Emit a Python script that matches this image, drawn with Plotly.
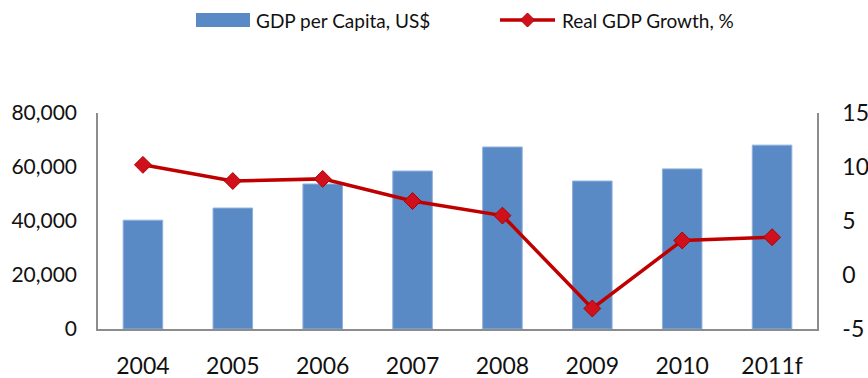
import plotly.graph_objects as go

years = ["2004", "2005", "2006", "2007", "2008", "2009", "2010", "2011f"]
gdp_per_capita = [40300, 44800, 53700, 58500, 67400, 54800, 59300, 68100]
real_growth = [10.2, 8.7, 8.9, 6.85, 5.5, -3.1, 3.2, 3.5]

left_ticks = [0, 20000, 40000, 60000, 80000]
right_ticks = [-5, 0, 5, 10, 15]
right_tick_text = ["-5", "0", "5", "10", "15"]

bar_name = "GDP per Capita, US$"
line_name = "Real GDP Growth, %"

FONT = "Lato"
AXIS_GREY = "#8c8c8c"
TICK_SIZE = 23
BAR_BLUE = "#5a8ac6"
LINE_RED = "#c00000"
MARKER_RED = "#d0101a"

W, H = 868, 378
M_L, M_R, M_T, M_B = 98, 51, 113, 49
PW, PH = W - M_L - M_R, H - M_T - M_B


def px_x(x):
    """Pixel column -> paper x."""
    return (x - M_L) / PW


def px_y(y):
    """Pixel row (from top) -> paper y."""
    return (H - M_B - y) / PH


fig = go.Figure()

fig.add_trace(go.Bar(
    x=years, y=gdp_per_capita, name=bar_name,
    marker=dict(color=BAR_BLUE, line=dict(color="#8fb0dc", width=1)),
    yaxis="y",
))

fig.add_trace(go.Scatter(
    x=years, y=real_growth, name=line_name,
    mode="lines+markers",
    line=dict(color=LINE_RED, width=3.5),
    marker=dict(symbol="diamond", size=13, color=MARKER_RED,
                line=dict(color="#b00000", width=1)),
    yaxis="y2",
))

# Legend drawn above the plot: wide swatch for the bars, line + diamond for growth
legend_font = dict(family=FONT, size=19, color="#111111")
cx, cy, r = 527.5, 20, 7
diamond_path = "M {},{} L {},{} L {},{} L {},{} Z".format(
    px_x(cx), px_y(cy - r), px_x(cx + r), px_y(cy),
    px_x(cx), px_y(cy + r), px_x(cx - r), px_y(cy))
shapes = [
    dict(type="rect", xref="paper", yref="paper",
         x0=px_x(196), x1=px_x(250), y0=px_y(27), y1=px_y(13),
         fillcolor=BAR_BLUE, line=dict(width=0)),
    dict(type="line", xref="paper", yref="paper",
         x0=px_x(500), x1=px_x(555), y0=px_y(20), y1=px_y(20),
         line=dict(color=LINE_RED, width=3.5)),
    dict(type="path", xref="paper", yref="paper", path=diamond_path,
         fillcolor=MARKER_RED, line=dict(color="#b00000", width=1)),
]
annotations = [
    dict(text=bar_name, xref="paper", yref="paper", x=px_x(254), y=px_y(20),
         xanchor="left", yanchor="middle", showarrow=False, font=legend_font),
    dict(text=line_name, xref="paper", yref="paper", x=px_x(560), y=px_y(20),
         xanchor="left", yanchor="middle", showarrow=False, font=legend_font),
]

fig.update_layout(
    width=W, height=H,
    margin=dict(l=M_L, r=M_R, t=M_T, b=M_B, autoexpand=False),
    paper_bgcolor="white", plot_bgcolor="rgba(0,0,0,0)",
    font=dict(family=FONT, size=TICK_SIZE, color="#111111"),
    bargap=0.56,
    showlegend=False,
    shapes=shapes,
    annotations=annotations,
    xaxis=dict(
        showline=True, linecolor=AXIS_GREY, linewidth=1.5,
        showgrid=False, ticks="", ticklabelstandoff=16, automargin=False,
        tickfont=dict(size=TICK_SIZE),
    ),
    yaxis=dict(
        range=[0, 80000], tickvals=left_ticks, tickformat=",",
        showline=True, linecolor=AXIS_GREY, linewidth=1.5,
        showgrid=False, zeroline=False, ticks="", ticklabelstandoff=15,
        automargin=False, tickfont=dict(size=21),
    ),
    yaxis2=dict(
        range=[-5, 15], tickvals=right_ticks, ticktext=right_tick_text,
        overlaying="y", side="right",
        showline=True, linecolor=AXIS_GREY, linewidth=1.5,
        showgrid=False, zeroline=False, ticks="", ticklabelstandoff=19,
        automargin=False, tickfont=dict(size=TICK_SIZE),
    ),
)

fig.write_html("out.html")
